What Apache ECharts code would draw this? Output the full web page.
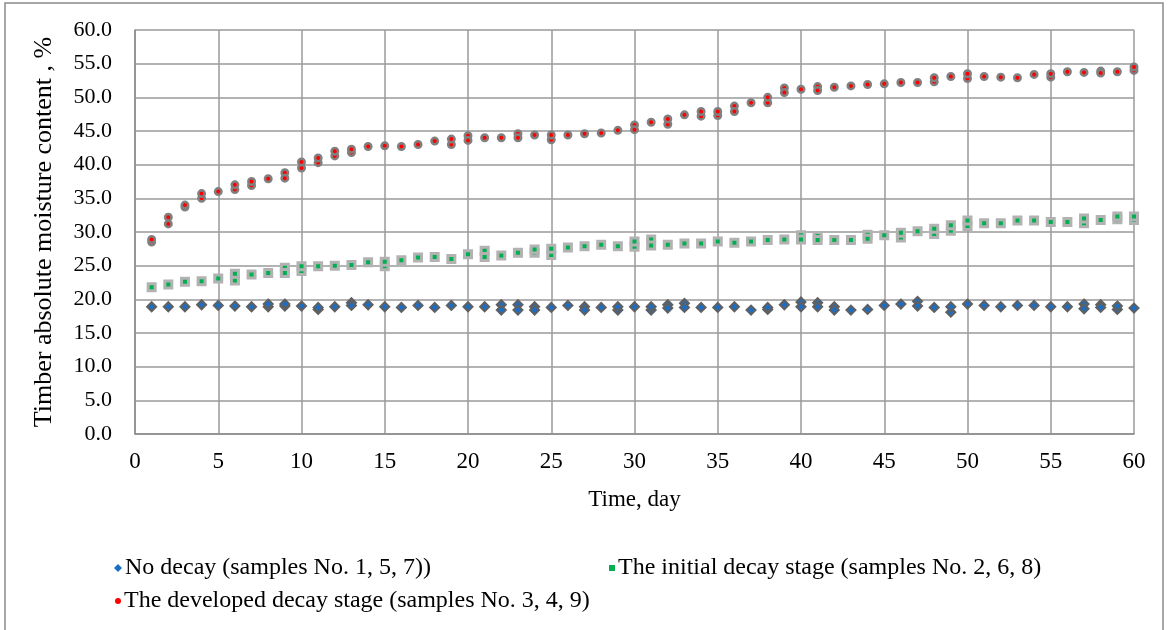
<!DOCTYPE html>
<html>
<head>
<meta charset="utf-8">
<script src="https://cdn.jsdelivr.net/npm/echarts@6/dist/echarts.min.js"></script>
<style>
html,body{margin:0;padding:0;background:#fff;}
#c{width:1168px;height:630px;}
</style>
</head>
<body>
<div id="c"></div>
<script>
var days = [];
for (var d = 1; d <= 60; d++) days.push(d);

var xTicks = [0,5,10,15,20,25,30,35,40,45,50,55,60];
var yTicks = [0,5,10,15,20,25,30,35,40,45,50,55,60];

var noDecayA = [18.9,18.9,18.9,19.2,19.1,19.0,18.9,19.3,19.3,19.0,18.8,18.9,19.1,19.2,18.9,18.8,19.1,18.8,19.1,18.9,18.9,18.4,18.4,18.4,18.8,19.1,18.4,18.8,18.9,18.9,18.9,18.7,18.8,18.8,18.8,18.9,18.4,18.8,19.2,18.9,18.9,18.4,18.4,18.5,19.1,19.3,19.0,18.8,18.9,19.3,19.1,18.9,19.1,19.1,18.9,18.9,18.6,18.8,19.0,18.7];
var noDecayB = [null,null,null,null,null,null,null,18.9,19.0,null,18.5,null,19.5,null,null,null,null,null,null,null,null,19.2,19.2,18.9,null,null,18.9,null,18.4,null,18.4,19.2,19.4,null,null,null,null,18.5,null,19.6,19.5,18.9,null,null,null,null,19.7,null,18.1,null,null,null,null,null,null,null,19.3,19.2,18.5,null];

var initialA = [21.8,22.2,22.6,22.7,23.1,23.8,23.7,23.9,23.9,24.9,24.9,25.0,25.1,25.5,25.6,25.8,26.2,26.3,26.0,26.7,26.3,26.5,26.9,27.4,27.5,27.7,27.9,28.1,27.9,28.6,28.0,28.1,28.3,28.3,28.6,28.4,28.6,28.8,28.9,28.9,28.8,28.8,28.8,29.0,29.5,29.9,30.1,30.5,31.0,31.7,31.3,31.3,31.7,31.7,31.5,31.5,32.0,31.8,32.3,32.3];
var initialB = [null,null,null,null,null,22.8,null,null,24.7,24.2,null,null,null,null,24.9,null,null,null,null,null,27.2,null,null,26.9,26.6,null,null,null,null,27.8,28.9,null,null,null,null,null,null,null,null,29.5,29.4,null,null,29.6,null,29.2,null,29.7,30.2,30.9,null,null,null,null,null,null,31.3,null,31.9,31.8];

var developedA = [28.9,32.2,34.0,35.7,36.0,37.0,37.5,37.9,38.0,40.4,41.0,42.0,42.3,42.7,42.8,42.7,43.0,43.5,43.8,43.6,44.0,44.0,44.0,44.4,44.4,44.4,44.6,44.7,45.1,45.2,46.3,46.8,47.4,47.9,47.9,47.9,49.2,50.0,50.7,51.2,51.0,51.5,51.7,51.9,52.0,52.2,52.2,52.9,53.1,53.5,53.1,53.0,52.9,53.4,53.5,53.8,53.7,53.6,53.8,54.5];
var developedB = [28.5,31.2,33.7,35.0,null,36.3,36.9,null,38.8,39.5,40.3,41.3,41.8,null,null,null,null,null,43.0,44.3,null,null,44.6,null,43.7,null,null,null,null,45.9,null,46.0,null,47.2,47.3,48.7,null,49.2,51.4,null,51.6,null,null,null,null,null,null,52.3,null,52.8,null,null,null,null,53.0,null,null,53.9,null,54.0];

var names = ['No decay (samples No. 1, 5, 7))', 'The initial decay stage (samples No. 2, 6, 8)', 'The developed decay stage (samples No. 3, 4, 9)'];

function pairs(arr) {
  var out = [];
  for (var i = 0; i < days.length; i++) if (arr[i] != null) out.push([days[i], arr[i]]);
  return out;
}

var FONT = 'Liberation Serif';
var groups = [
  {name: names[0], a: noDecayA, b: noDecayB, symbol: 'diamond', size: 9, bw: 2, color: '#1c6ec4', border: '#606060'},
  {name: names[1], a: initialA, b: initialB, symbol: 'rect', size: 7, bw: 3, color: '#00b050', border: '#b2b2b2'},
  {name: names[2], a: developedA, b: developedB, symbol: 'circle', size: 6.5, bw: 2.5, color: '#ff0000', border: '#808080'}
];

var series = [];
groups.forEach(function (g) {
  [['b', g.name + ' (2)'], ['a', g.name]].forEach(function (p) {
    series.push({
      name: p[1], type: 'scatter', data: pairs(g[p[0]]),
      symbol: g.symbol, symbolSize: g.size,
      itemStyle: {color: g.color, borderColor: g.border, borderWidth: g.bw, opacity: 1},
      emphasis: {disabled: true}, animation: false, silent: true
    });
  });
});

function legend(name, left, top, icon, size) {
  return {
    data: [{name: name, icon: icon, itemStyle: {borderWidth: 0}}],
    left: left, top: top, itemWidth: size, itemHeight: size, itemGap: 0,
    textStyle: {fontFamily: FONT, fontSize: 24, color: '#000', padding: [0, 0, 0, -2]},
    selectedMode: false
  };
}

var chart = echarts.init(document.getElementById('c'), null, {renderer: 'canvas'});
chart.setOption({
  backgroundColor: '#fff',
  animation: false,
  graphic: [{type: 'rect', shape: {x: 5, y: 3, width: 1158, height: 640}, style: {fill: 'none', stroke: '#8a8a8a', lineWidth: 1.5}, silent: true}],
  grid: {left: 135, right: 34, top: 30, bottom: 196},
  xAxis: {
    type: 'value', min: xTicks[0], max: xTicks[xTicks.length - 1], interval: 5,
    name: 'Time, day', nameLocation: 'middle', nameGap: 54,
    nameTextStyle: {fontFamily: FONT, fontSize: 23, color: '#000'},
    axisLine: {lineStyle: {color: '#8c8c8c', width: 1.5}},
    axisTick: {show: false},
    axisLabel: {fontFamily: FONT, fontSize: 23, color: '#000', margin: 16},
    splitLine: {show: true, lineStyle: {color: '#9a9a9a', width: 1.5}}
  },
  yAxis: {
    type: 'value', min: yTicks[0], max: yTicks[yTicks.length - 1], interval: 5,
    name: 'Timber absolute moisture content , %', nameLocation: 'middle', nameGap: 78, nameRotate: 90,
    nameTextStyle: {fontFamily: FONT, fontSize: 26, color: '#000'},
    axisLine: {show: true, lineStyle: {color: '#8c8c8c', width: 1.5}},
    axisTick: {show: false},
    axisLabel: {fontFamily: FONT, fontSize: 22, color: '#000', margin: 23, formatter: function (v) { return v.toFixed(1); }},
    splitLine: {show: true, lineStyle: {color: '#9a9a9a', width: 1.5}}
  },
  legend: [
    legend(names[0], 109, 551, 'diamond', 8),
    legend(names[1], 604, 551, 'rect', 6),
    legend(names[2], 110, 584, 'circle', 6)
  ],
  series: series
});
</script>
</body>
</html>
